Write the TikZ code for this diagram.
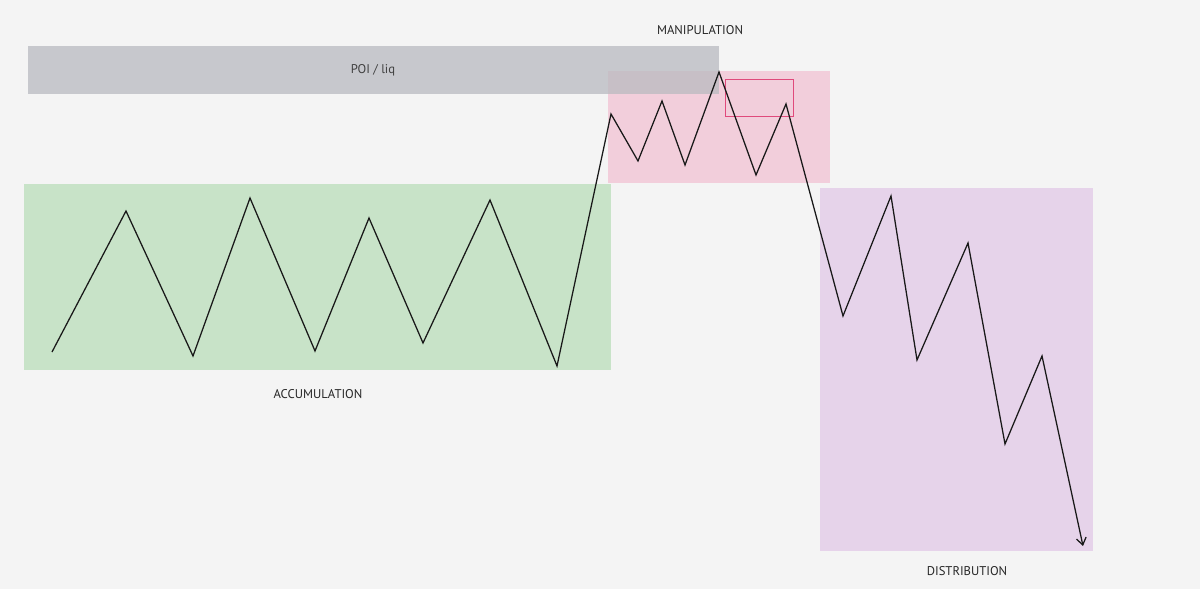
\documentclass[tikz,border=0pt]{standalone}
\usepackage{fontspec}
\setmainfont{PT Sans}
\usepackage{tikz}
\usetikzlibrary{arrows.meta}
\definecolor{bgcol}{HTML}{F4F4F4}
\definecolor{accucol}{HTML}{C8E3C8}
\definecolor{manicol}{HTML}{F2CEDB}
\definecolor{distcol}{HTML}{E6D3EA}
\definecolor{poicol}{HTML}{B9BAC0}
\definecolor{sweepcol}{HTML}{E04A7C}
\tikzstyle{phase} = [font=\fontsize{9}{11}\selectfont, text=black!85]
\tikzstyle{price} = [line width=0.9pt, black!90]

\begin{document}
\begin{tikzpicture}[x=0.025cm,y=-0.025cm]
\fill[bgcol] (0,0) rectangle (1200,589);
\useasboundingbox (0,0) rectangle (1200,589);
% zones
\fill[accucol] (24,184) rectangle (611,370);
\fill[manicol] (608,71) rectangle (830,183);
\fill[distcol] (820,188) rectangle (1093,551);
\fill[poicol, opacity=0.75] (28,46) rectangle (719,94);
\draw[sweepcol, line width=0.7pt] (725,79) rectangle (793,116);
% labels
\node[phase] (manip) at (700,30) {MANIPULATION};
\node[phase, text=black!75] (poi) at (373,70) {POI / liq};
\node[phase] (accu) at (318,394) {ACCUMULATION};
\node[phase] (dist) at (967,571) {DISTRIBUTION};
% price path
\foreach \n/\x/\y in {0/52/352, 1/126/211, 2/193/356, 3/250/198, 4/315/351,
  5/369/218, 6/423/343, 7/490/200, 8/557/366, 9/611/114, 10/638/161,
  11/662/101, 12/685/165, 13/719/72, 14/756/175, 15/786/104, 16/843/316,
  17/891/196, 18/917/360, 19/968/243, 20/1005/444, 21/1042/356, 22/1083/546}
  \coordinate (p\n) at (\x,\y);
\draw[price, -{Straight Barb[length=5pt,width=7pt]}] (p0) -- (p1) -- (p2)
  -- (p3) -- (p4) -- (p5) -- (p6) -- (p7) -- (p8) -- (p9) -- (p10) -- (p11)
  -- (p12) -- (p13) -- (p14) -- (p15) -- (p16) -- (p17) -- (p18) -- (p19)
  -- (p20) -- (p21) -- (p22);
\end{tikzpicture}
\end{document}
